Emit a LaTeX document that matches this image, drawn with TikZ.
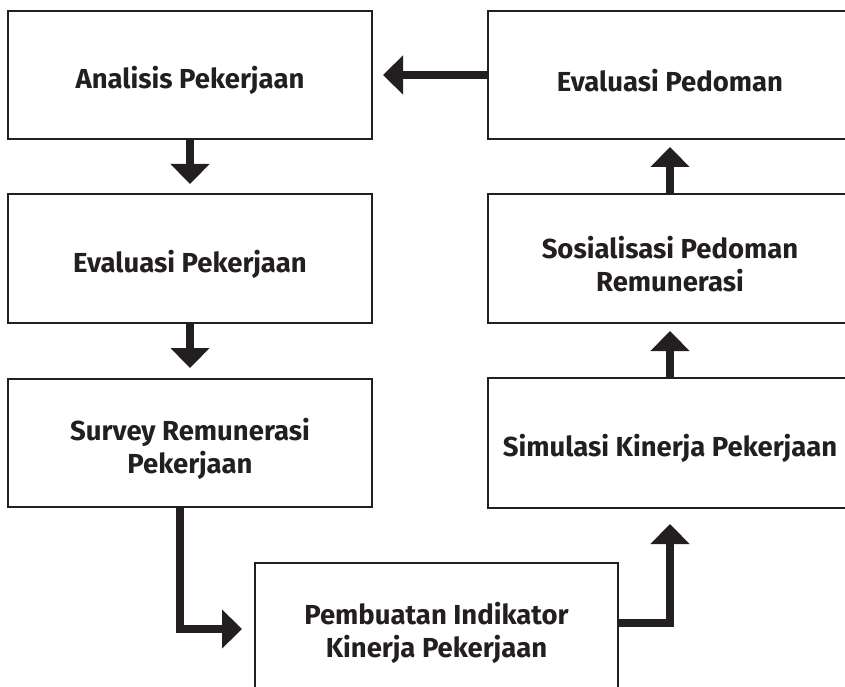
\documentclass[tikz,border=0pt]{standalone}
\usepackage{fontspec}
\setmainfont{Fira Sans}
\usetikzlibrary{arrows.meta,calc}
\definecolor{ink}{RGB}{35,31,32}
\begin{document}
\begin{tikzpicture}[x=1pt,y=-1pt,
  box/.style={draw=ink,line width=2pt,minimum width=364pt,minimum height=128pt,inner sep=0pt},
  txt/.style={text=ink,align=center,font=\fontsize{27.5}{33}\selectfont\bfseries,inner sep=0pt},
  flow/.style={draw=ink,line width=8pt,-{Triangle[width=38pt,length=20pt]},color=ink}]
\useasboundingbox (0,0) rectangle (845,687);
\node[box] (b1) at (190,75) {};
\node[box,minimum height=129pt] (b2) at (190,258.5) {};
\node[box] (b3) at (190,443) {};
\node[box,minimum width=363pt] (b4) at (436.5,627) {};
\node[box,minimum height=130pt] (b5) at (670,443) {};
\node[box,minimum height=129pt] (b6) at (670,258.5) {};
\node[box] (b7) at (670,75) {};
\node[txt] (t1) at ([yshift=-5.5pt]b1.center) {Analisis Pekerjaan};
\node[txt] (t2) at ([yshift=-5.5pt]b2.center) {Evaluasi Pekerjaan};
\node[txt] (t3) at ([yshift=-5.5pt]b3.center) {Survey Remunerasi\\Pekerjaan};
\node[txt] (t4) at ([yshift=-5.5pt]b4.center) {Pembuatan Indikator\\Kinerja Pekerjaan};
\node[txt] (t5) at ([yshift=-5.5pt]b5.center) {Simulasi Kinerja Pekerjaan};
\node[txt] (t6) at ([yshift=-5.5pt]b6.center) {Sosialisasi Pedoman\\Remunerasi};
\node[txt] (t7) at ([yshift=-5.5pt]b7.center) {Evaluasi Pedoman};
\draw[flow] (b1.south) -- ([yshift=9pt]b2.north);
\draw[flow] (b2.south) -- ([yshift=10pt]b3.north);
\draw[flow] ([xshift=-10pt]b3.south) |- ([xshift=-12pt,yshift=-2pt]b4.west);
\draw[flow] ([yshift=4pt]b4.east) -| ([yshift=-15pt]b5.south);
\draw[flow] (b5.north) -- ([yshift=-7pt]b6.south);
\draw[flow] (b6.north) -- ([yshift=-7pt]b7.south);
\draw[flow] (b7.west) -- ([xshift=10pt]b1.east);
\end{tikzpicture}
\end{document}
